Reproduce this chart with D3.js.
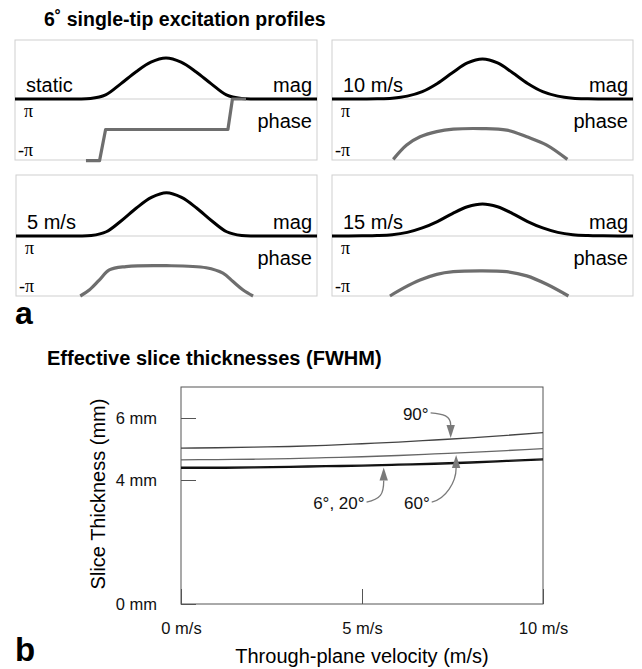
<!DOCTYPE html>
<html><head><meta charset="utf-8">
<script src="https://cdn.jsdelivr.net/npm/d3@7"></script>
<style>
body{margin:0;background:#fff}
svg{display:block;font-family:"Liberation Sans",Arial,Helvetica,sans-serif}
</style>
</head><body>
<svg id="c" width="642" height="669"></svg>
<script>
// ================= DATA =================
// Panel a: excitation profiles (position u across the slice, -1..1)
const panelTitleA = "6\u02DA single-tip excitation profiles";
const panelLabels = ["static", "10 m/s", "5 m/s", "15 m/s"];
const magU = [-1,-0.9,-0.8,-0.7,-0.6,-0.5,-0.4,-0.3,-0.2,-0.1,0,0.1,0.2,0.3,0.4,0.5,0.6,0.7,0.8,0.9,1];
const magStatic = [0,0,0,0,0,0.01,0.10,0.37,0.66,0.90,1.00,0.90,0.66,0.37,0.10,0.01,0,0,0,0,0];
const mag10     = [0,0,0,0.005,0.02,0.07,0.18,0.38,0.64,0.88,0.976,0.88,0.64,0.38,0.18,0.07,0.02,0.005,0,0,0];
const mag5      = [0,0,0,0,0,0.01,0.10,0.36,0.66,0.91,1.02,0.91,0.66,0.36,0.10,0.01,0,0,0,0,0];
const mag15     = [0,0,0.003,0.01,0.03,0.085,0.19,0.34,0.53,0.69,0.756,0.69,0.53,0.34,0.19,0.085,0.03,0.01,0.003,0,0];
// phase in units of pi
const phaseStaticU = [-0.53,-0.44,-0.40,0.41,0.44,0.53];
const phaseStatic  = [-1.02,-1.02,0,0,1,1];
const phase10U = [-0.593,-0.504,-0.415,-0.304,-0.194,-0.005,0.161,0.294,0.427,0.564];
const phase10  = [-0.98,-0.51,-0.24,-0.07,0.01,0.03,-0.02,-0.24,-0.51,-0.98];
const phase5U  = [-0.573,-0.513,-0.447,-0.38,-0.269,0,0.264,0.375,0.442,0.509,0.575];
const phase5   = [-1,-0.8,-0.47,-0.13,-0.02,0.01,-0.06,-0.24,-0.52,-0.8,-1];
const phase15U = [-0.615,-0.526,-0.415,-0.304,-0.194,-0.017,0.161,0.294,0.427,0.571];
const phase15  = [-1,-0.74,-0.47,-0.28,-0.19,-0.16,-0.19,-0.33,-0.61,-1];

// Panel b: effective slice thickness (FWHM) vs through-plane velocity
const panelTitleB = "Effective slice thicknesses (FWHM)";
const velocities = [0,1,2,3,4,5,6,7,8,9,10];
const thick6  = [4.38,4.38,4.39,4.41,4.43,4.45,4.48,4.51,4.55,4.60,4.65];
const thick20 = [4.41,4.41,4.42,4.44,4.46,4.48,4.51,4.54,4.58,4.63,4.68];
const thick60 = [4.65,4.66,4.67,4.69,4.72,4.75,4.79,4.84,4.89,4.95,5.01];
const thick90 = [5.03,5.04,5.06,5.08,5.12,5.17,5.22,5.29,5.36,5.44,5.53];
const yTickValues = [0,4,6];
const yTickLabels = ["0 mm","4 mm","6 mm"];
const xTickValues = [0,5,10];
const xTickLabels = ["0 m/s","5 m/s","10 m/s"];
const annLabels  = ["90\u00B0","60\u00B0","6\u00B0, 20\u00B0"];
const annLabelV  = [6.13, 6.16, 3.65];   // label start (m/s)
const annLabelMM = [5.94, 3.06, 3.06];   // label baseline (mm)
const annTargetV = [7.45, 7.6, 5.6];
const annSeries  = [thick90, thick60, thick6];
const annDir     = [1, -1, -1];          // 1: arrow points down, -1: up

// ================= DRAW =================
const svg = d3.select("#c");
const serif = "'Liberation Serif','Times New Roman',serif";

svg.append("text").attr("x",44).attr("y",26).attr("font-weight","bold")
  .attr("font-size",19.5).text(panelTitleA);

const panels = [
  {label:panelLabels[0], mag:magStatic, pu:phaseStaticU, ph:phaseStatic, x0:15, x1:317, y0:40, yd:99, y1:160, curve:d3.curveLinear},
  {label:panelLabels[1], mag:mag10, pu:phase10U, ph:phase10, x0:332, x1:633, y0:40, yd:99, y1:160, curve:d3.curveCatmullRom},
  {label:panelLabels[2], mag:mag5, pu:phase5U, ph:phase5, x0:16, x1:317, y0:175, yd:236, y1:296, curve:d3.curveCatmullRom},
  {label:panelLabels[3], mag:mag15, pu:phase15U, ph:phase15, x0:332, x1:633, y0:175, yd:236, y1:296, curve:d3.curveCatmullRom}
];

panels.forEach(p => {
  const g = svg.append("g");
  const xs = d3.scaleLinear().domain([-1,1]).range([p.x0,p.x1]);
  const ym = d3.scaleLinear().domain([0,1.44]).range([p.yd,p.y0]);
  const yp = d3.scaleLinear().domain([-1,1]).range([p.y1,p.yd]);
  g.append("rect").attr("x",p.x0).attr("y",p.y0).attr("width",p.x1-p.x0).attr("height",p.y1-p.y0)
    .attr("fill","none").attr("stroke","#cfcfcf").attr("stroke-width",1);
  g.append("line").attr("x1",p.x0).attr("x2",p.x1).attr("y1",p.yd).attr("y2",p.yd)
    .attr("stroke","#cfcfcf");
  // labels
  g.append("text").attr("x",p.x0+11).attr("y",p.yd-7).attr("font-size",20).text(p.label);
  g.append("text").attr("x",p.x1-5).attr("y",p.yd-7).attr("font-size",20).attr("text-anchor","end").text("mag");
  g.append("text").attr("x",p.x1-5).attr("y",p.yd+29).attr("font-size",20).attr("text-anchor","end").text("phase");
  g.append("text").attr("x",p.x0+9).attr("y",p.yd+18).attr("font-size",18)
    .attr("font-family",serif).text("\u03C0");
  g.append("text").attr("x",p.x0+3).attr("y",p.y1-4).attr("font-size",18)
    .attr("font-family",serif).text("-\u03C0");
  // magnitude
  const magLine = d3.line().x((d,i)=>xs(magU[i])).y(d=>ym(d)).curve(d3.curveCatmullRom);
  g.append("path").attr("d",magLine(p.mag)).attr("fill","none").attr("stroke","#000").attr("stroke-width",3);
  // phase
  const phLine = d3.line().x((d,i)=>xs(p.pu[i])).y(d=>yp(d)).curve(p.curve);
  g.append("path").attr("d",phLine(p.ph)).attr("fill","none").attr("stroke","#6e6e6e")
    .attr("stroke-width",3.2).attr("stroke-linejoin","round");
});

svg.append("text").attr("x",15).attr("y",324).attr("font-weight","bold").attr("font-size",32).text("a");

// ---- panel b ----
svg.append("text").attr("x",47).attr("y",365).attr("font-weight","bold")
  .attr("font-size",20).text(panelTitleB);

const bx0 = 181, bx1 = 543, by0 = 387, by1 = 604;
const x = d3.scaleLinear().domain([0,10]).range([bx0,bx1]);
const y = d3.scaleLinear().domain([0,7]).range([by1,by0]);

svg.append("rect").attr("x",bx0).attr("y",by0).attr("width",bx1-bx0).attr("height",by1-by0)
  .attr("fill","none").attr("stroke","#555").attr("stroke-width",1);

const yAxis = d3.axisLeft(y).tickValues(yTickValues).tickFormat((d,i)=>yTickLabels[i])
  .tickSizeInner(-15).tickSizeOuter(0).tickPadding(24);
const gy = svg.append("g").attr("transform",`translate(${bx0},0)`).call(yAxis);
gy.select(".domain").remove();
gy.selectAll("line").attr("stroke","#555");
gy.selectAll("text").attr("font-size",16.5).attr("fill","#111")
  .attr("font-family","'Liberation Sans',Arial,sans-serif");

const xAxis = d3.axisBottom(x).tickValues(xTickValues).tickFormat((d,i)=>xTickLabels[i])
  .tickSizeInner(-15).tickSizeOuter(0).tickPadding(18);
const gx = svg.append("g").attr("transform",`translate(0,${by1})`).call(xAxis);
gx.select(".domain").remove();
gx.selectAll("line").attr("stroke","#555");
gx.selectAll("text").attr("font-size",16.5).attr("fill","#111")
  .attr("font-family","'Liberation Sans',Arial,sans-serif");

svg.append("text").attr("transform",`translate(105,494) rotate(-90)`).attr("text-anchor","middle")
  .attr("font-size",20).text("Slice Thickness (mm)");
svg.append("text").attr("x",(bx0+bx1)/2).attr("y",663).attr("text-anchor","middle")
  .attr("font-size",20).text("Through-plane velocity (m/s)");
svg.append("text").attr("x",15).attr("y",661).attr("font-weight","bold").attr("font-size",33).text("b");

const line = d3.line().x((d,i)=>x(velocities[i])).y(d=>y(d)).curve(d3.curveMonotoneX);
svg.append("path").attr("d",line(thick90)).attr("fill","none").attr("stroke","#444").attr("stroke-width",1.3);
svg.append("path").attr("d",line(thick60)).attr("fill","none").attr("stroke","#666").attr("stroke-width",1.3);
svg.append("path").attr("d",line(thick6)).attr("fill","none").attr("stroke","#111").attr("stroke-width",1.4);
svg.append("path").attr("d",line(thick20)).attr("fill","none").attr("stroke","#111").attr("stroke-width",1.4);

// annotations
function valueAt(series, v){
  const i = Math.min(Math.floor(v), series.length-2);
  const t = v - i;
  return series[i]*(1-t) + series[i+1]*t;
}
annLabels.forEach((lab,i)=>{
  const t = svg.append("text").attr("x",x(annLabelV[i])).attr("y",y(annLabelMM[i]))
    .attr("font-size",17).attr("fill","#111").text(lab);
  const bb = t.node().getBBox();
  const sx = bb.x + bb.width + 2, sy = y(annLabelMM[i]) - 7;
  const tx = x(annTargetV[i]);
  const lineY = y(valueAt(annSeries[i], annTargetV[i]));
  const dir = annDir[i];
  const ty = dir > 0 ? lineY - 1 : lineY + 2;
  const headLen = 13, headW = 4.2;
  const bxp = tx, byp = ty - dir*headLen;
  const path = dir > 0
    ? `M${sx},${sy} C${sx+13},${sy+1} ${bxp},${byp-9} ${bxp},${byp}`
    : `M${sx},${sy} C${sx+14},${sy-3} ${bxp},${byp+14} ${bxp},${byp}`;
  svg.append("path").attr("d",path).attr("fill","none").attr("stroke","#7a7a7a").attr("stroke-width",1.3);
  svg.append("path").attr("d",`M${tx},${ty} L${bxp-headW},${byp} L${bxp+headW},${byp} Z`)
    .attr("fill","#7a7a7a");
});
</script>
</body></html>
